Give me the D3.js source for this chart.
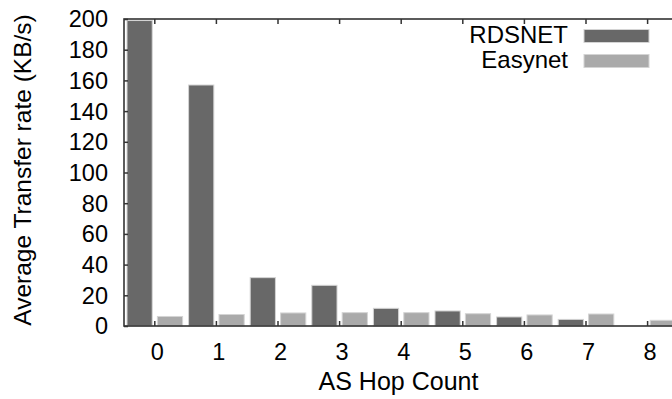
<!DOCTYPE html>
<html>
<head>
<meta charset="utf-8">
<script src="https://cdn.jsdelivr.net/npm/d3@7"></script>
<style>
  body { margin: 0; background: #fff; }
  text { font-family: "Liberation Sans", Arial, sans-serif; fill: #000; }
</style>
</head>
<body>
<svg id="chart"></svg>
<script>
// hop counts on the x axis
var hops = ["0", "1", "2", "3", "4", "5", "6", "7", "8"];
var seriesNames = ["RDSNET", "Easynet"];
var rdsnet = [199, 157, 31.5, 26.5, 11.5, 9.8, 5.9, 4.3, 0];
var easynet = [6.2, 7.5, 8.5, 8.7, 8.7, 8.0, 7.2, 7.8, 3.7];
var yTicks = [0, 20, 40, 60, 80, 100, 120, 140, 160, 180, 200];
var colors = ["#686868", "#aaaaaa"];

var W = 672, H = 399;
var plotLeft = 124, plotTop = 19, plotBottom = 326, plotRight = 678.4;

var svg = d3.select("#chart")
    .attr("width", W)
    .attr("height", H);

var xScale = d3.scaleBand()
    .domain(hops)
    .range([plotLeft, plotRight])
    .padding(0);

var xInner = d3.scaleBand()
    .domain(seriesNames)
    .range([3, xScale.bandwidth() - 3])
    .paddingInner(0.17);

var yScale = d3.scaleLinear()
    .domain([0, 200])
    .range([plotBottom, plotTop]);

var rows = hops.map(function(h, i) {
    return {hop: h, values: [rdsnet[i], easynet[i]]};
});

// bars
var groups = svg.append("g")
    .selectAll("g")
    .data(rows)
    .enter().append("g")
    .attr("transform", function(d) { return "translate(" + xScale(d.hop) + ",0)"; });

groups.selectAll("rect")
    .data(function(d) {
        return d.values
            .map(function(v, j) { return {name: seriesNames[j], v: v, j: j}; })
            .filter(function(e) { return e.v > 0; });
    })
    .enter().append("rect")
    .attr("x", function(d) { return xInner(d.name); })
    .attr("width", xInner.bandwidth())
    .attr("y", function(d) { return yScale(d.v); })
    .attr("height", function(d) { return yScale(0) - yScale(d.v); })
    .attr("fill", function(d) { return colors[d.j]; })
    .attr("stroke", "#d4d4d4")
    .attr("stroke-width", 1);

// frame
svg.append("rect")
    .attr("x", plotLeft)
    .attr("y", plotTop)
    .attr("width", plotRight - plotLeft)
    .attr("height", plotBottom - plotTop)
    .attr("fill", "none")
    .attr("stroke", "#333")
    .attr("stroke-width", 1.6);

// y axis, ticks inward
svg.append("g")
    .attr("transform", "translate(" + plotLeft + ",0)")
    .call(d3.axisRight(yScale).tickValues(yTicks).tickSize(4).tickFormat(""))
    .call(function(g) { g.select(".domain").remove(); })
    .selectAll("line").attr("stroke", "#333").attr("stroke-width", 1.5);

svg.append("g")
    .selectAll("text")
    .data(yTicks)
    .enter().append("text")
    .attr("x", 108)
    .attr("y", function(d) { return yScale(d); })
    .attr("dy", "0.36em")
    .attr("text-anchor", "end")
    .style("font-size", "23.5px")
    .text(function(d) { return d; });

// x axis ticks, bottom and top, inward
svg.append("g")
    .attr("transform", "translate(0," + plotBottom + ")")
    .call(d3.axisTop(xScale).tickSize(5).tickFormat(""))
    .call(function(g) { g.select(".domain").remove(); })
    .selectAll("line").attr("stroke", "#333").attr("stroke-width", 1.5);

svg.append("g")
    .attr("transform", "translate(0," + plotTop + ")")
    .call(d3.axisBottom(xScale).tickSize(5).tickFormat(""))
    .call(function(g) { g.select(".domain").remove(); })
    .selectAll("line").attr("stroke", "#333").attr("stroke-width", 1.5);

svg.append("g")
    .selectAll("text")
    .data(hops)
    .enter().append("text")
    .attr("x", function(d) { return xScale(d) + xScale.bandwidth() / 2 + 2.5; })
    .attr("y", 359.5)
    .attr("text-anchor", "middle")
    .style("font-size", "23.5px")
    .text(function(d) { return d; });

// axis titles
svg.append("text")
    .attr("x", 398.5)
    .attr("y", 390)
    .attr("text-anchor", "middle")
    .style("font-size", "25px")
    .text("AS Hop Count");

svg.append("text")
    .attr("transform", "translate(31,170) rotate(-90)")
    .attr("text-anchor", "middle")
    .style("font-size", "24.5px")
    .text("Average Transfer rate (KB/s)");

// legend
var legend = svg.append("g")
    .selectAll("g")
    .data(seriesNames)
    .enter().append("g")
    .attr("transform", function(d, i) { return "translate(0," + (i * 25) + ")"; });

legend.append("text")
    .attr("x", 568)
    .attr("y", 43.3)
    .attr("text-anchor", "end")
    .style("font-size", "24px")
    .text(function(d) { return d; });

legend.append("rect")
    .attr("x", 584)
    .attr("y", 29.5)
    .attr("width", 65)
    .attr("height", 13)
    .attr("fill", function(d, i) { return colors[i]; })
    .attr("stroke", "#d4d4d4")
    .attr("stroke-width", 1);
</script>
</body>
</html>
